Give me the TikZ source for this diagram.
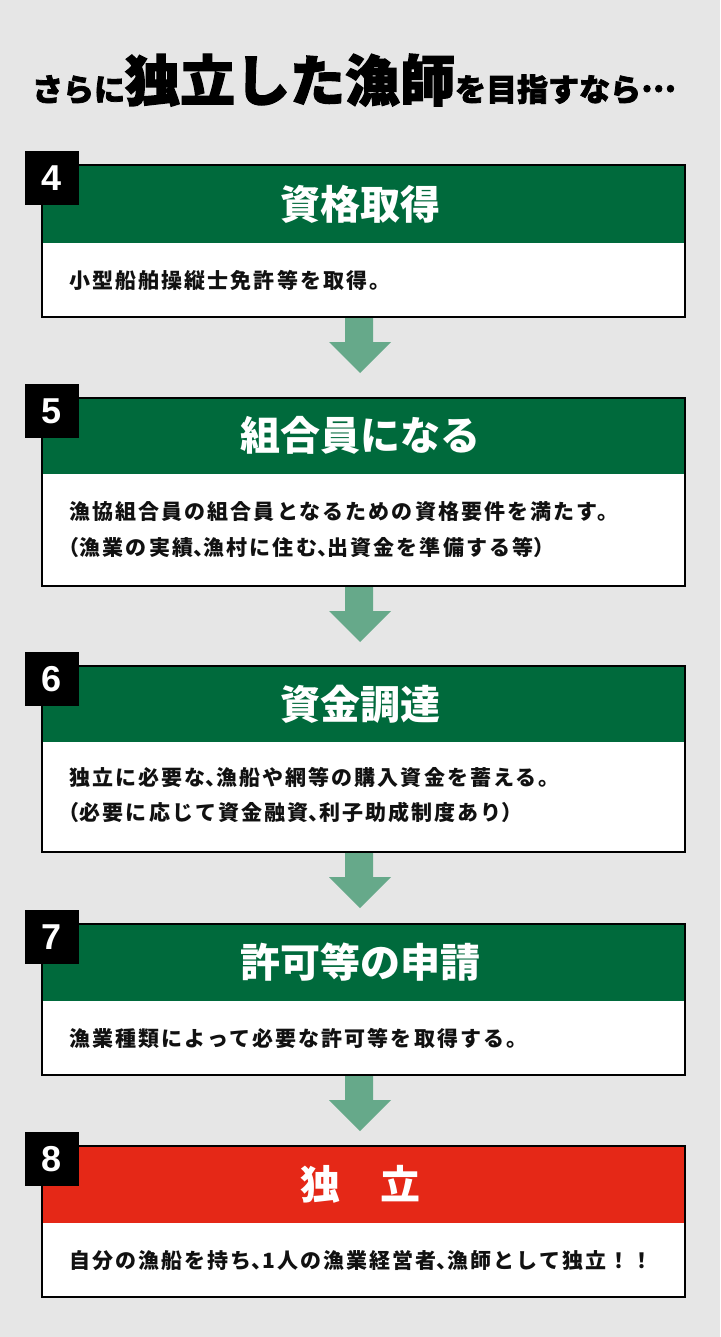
\documentclass[tikz,border=0pt]{standalone}
\usepackage{fontspec}
\usetikzlibrary{calc}
\newfontfamily\jp{Noto Sans CJK JP}
\newfontfamily\jpheavy{Noto Sans CJK JP}[BoldFeatures={FakeBold=2.5}]
\newfontfamily\jpbody{Noto Sans CJK JP}[LetterSpace=10]
\newfontfamily\jpbodyh{Noto Sans CJK JP}[RawFeature=+halt]
\newfontfamily\numf{Liberation Sans}
\newcommand{\hw}[1]{{\jpbodyh\bfseries #1}}
\definecolor{bg}{HTML}{E6E6E6}
\definecolor{hdrgreen}{HTML}{006A3C}
\definecolor{hdrred}{HTML}{E52817}
\definecolor{arrowc}{HTML}{66A98A}
\definecolor{ink}{HTML}{111111}
\tikzset{
  frame/.style={draw=black, line width=2pt, fill=white, inner sep=0pt, outer sep=0pt, minimum width=643pt, anchor=north west},
  hdr/.style={inner sep=0pt, outer sep=0pt, minimum width=641pt, anchor=north west},
  hdrtitle/.style={text=white, font=\jp\bfseries\fontsize{40}{44}\selectfont, inner sep=0pt},
  bodytext/.style={text=ink, font=\jpbody\bfseries\fontsize{21}{24}\selectfont, inner sep=0pt, anchor=west},
  badge/.style={fill=black, text=white, minimum size=54pt, inner sep=0pt, font=\numf\bfseries\fontsize{36}{36}\selectfont},
  blockarrow/.style={fill=arrowc}
}
\newcommand{\downarrowshape}[1]{%
  \fill[blockarrow] ($(#1.south)+(-18.5,1)$) -- ++(28,0) -- ++(0,24) -- ++(18,0)
    -- ++(-31,31) -- ++(-31,-31) -- ++(16,0) -- cycle;}
\begin{document}
\begin{tikzpicture}[x=1pt,y=-1pt]
\fill[bg] (0,0) rectangle (720,1337);
\useasboundingbox (0,0) rectangle (720,1337);

% title
\node[anchor=base, inner sep=0pt, text=black] (title) at (354,101)
  {\jpheavy\bfseries\fontsize{31}{31}\selectfont さらに\fontsize{55}{55}\selectfont 独立した漁師\fontsize{31}{31}\selectfont を目指すなら\raisebox{0.3em}{…}};

% box 4
\node[frame, minimum height=152pt] (b4) at (42,165) {};
\node[hdr, fill=hdrgreen, minimum height=77pt] (h4) at (43,166) {};
\node[hdrtitle] (t4) at (360,204) {資格取得};
\node[bodytext] (x4) at (69,280) {小型船舶操縦士免許等を取得。};
\node[badge] (n4) at (52,178) {4};

% box 5
\node[frame, minimum height=188pt] (b5) at (42,398) {};
\node[hdr, fill=hdrgreen, minimum height=75pt] (h5) at (43,399) {};
\node[hdrtitle] (t5) at (360,435) {組合員になる};
\node[bodytext] (x5a) at (69,512) {漁協組合員の組合員となるための資格要件を満たす。};
\node[bodytext] (x5b) at (69,547) {\hw{（}漁業の実績\hw{、}漁村に住む\hw{、}出資金を準備する等\hw{）}};
\node[badge] (n5) at (52,411) {5};

% box 6
\node[frame, minimum height=186pt] (b6) at (42,666) {};
\node[hdr, fill=hdrgreen, minimum height=75pt] (h6) at (43,667) {};
\node[hdrtitle] (t6) at (360,704) {資金調達};
\node[bodytext] (x6a) at (69,777) {独立に必要な\hw{、}漁船や網等の購入資金を蓄える。};
\node[bodytext] (x6b) at (69,812) {\hw{（}必要に応じて資金融資\hw{、}利子助成制度あり\hw{）}};
\node[badge] (n6) at (52,679) {6};

% box 7
\node[frame, minimum height=151pt] (b7) at (42,924) {};
\node[hdr, fill=hdrgreen, minimum height=76pt] (h7) at (43,925) {};
\node[hdrtitle] (t7) at (360,962) {許可等の申請};
\node[bodytext] (x7) at (69,1038) {漁業種類によって必要な許可等を取得する。};
\node[badge] (n7) at (52,937) {7};

% box 8
\node[frame, minimum height=151pt] (b8) at (42,1146) {};
\node[hdr, fill=hdrred, minimum height=76pt] (h8) at (43,1147) {};
\node[hdrtitle] (t8) at (360,1184) {独　立};
\node[bodytext] (x8) at (69,1261) {自分の漁船を持ち\hw{、}1人の漁業経営者\hw{、}漁師として独立！！};
\node[badge] (n8) at (52,1159) {8};

% arrows
\downarrowshape{b4}
\downarrowshape{b5}
\downarrowshape{b6}
\downarrowshape{b7}
\end{tikzpicture}
\end{document}
